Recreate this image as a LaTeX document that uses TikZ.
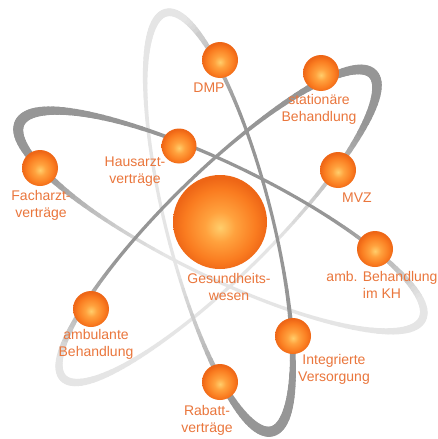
\documentclass[tikz,border=0pt]{standalone}
\usepackage{fontspec}
\setmainfont{Liberation Sans}
\definecolor{lblc}{RGB}{234,118,60}
\definecolor{sphA}{RGB}{255,206,108}
\definecolor{sphB}{RGB}{255,162,62}
\definecolor{sphC}{RGB}{250,124,32}
\definecolor{sphD}{RGB}{238,102,22}
\pgfdeclareradialshading{sph}{\pgfpoint{0bp}{-3bp}}{color(0bp)=(sphA); color(8bp)=(sphB); color(19bp)=(sphC); color(25bp)=(sphD); color(50bp)=(sphD)}
\newcommand{\orbitpart}[6]{%
  \foreach \orbq in {#6}{%
    \pgfmathsetmacro{\orbk}{max(0,min(1,0.7+1.3*cos(\orbq-40)))}%
    \pgfmathsetmacro{\orbw}{3.2+7*max(cos(\orbq),0)^3+4.5*max(-cos(\orbq),0)^4}%
    \pgfmathsetmacro{\orbc}{10+31*\orbk}%
    \pgfmathsetmacro{\orbn}{\orbq+2.5}%
    \draw[orbline, line width=\orbw pt, draw=black!\orbc]
      ({#1+#3*cos(\orbq)*cos(#5)-(#4)*sin(\orbq)*sin(#5)},{#2-#3*cos(\orbq)*sin(#5)-(#4)*sin(\orbq)*cos(#5)})
      -- ({#1+#3*cos(\orbn)*cos(#5)-(#4)*sin(\orbn)*sin(#5)},{#2-#3*cos(\orbn)*sin(#5)-(#4)*sin(\orbn)*cos(#5)});
  }}
\tikzset{
  orbline/.style={line cap=round},
  sphere/.style={circle, inner sep=0pt, shade, shading=sph, minimum size=#1},
  lbl/.style={text=lblc, font=\fontsize{14}{17}\selectfont, align=center, inner sep=0pt}
}
\begin{document}
\begin{tikzpicture}[x=1pt,y=-1pt]
\useasboundingbox (0,0) rectangle (437,439);
\fill[white] (0,0) rectangle (437,439);
% back (light) parts of the orbits
\orbitpart{221}{221}{224}{-56}{154}{150,152.5,...,307.5}
\orbitpart{218}{226}{217}{52}{44.5}{150,152.5,...,307.5}
\orbitpart{219}{222}{216}{53}{-75.8}{150,152.5,...,307.5}
% front (dark) parts of the orbits
\orbitpart{221}{221}{224}{-56}{154}{-50,-47.5,...,147.5}
\orbitpart{218}{226}{217}{52}{44.5}{-50,-47.5,...,147.5}
\orbitpart{219}{222}{216}{53}{-75.8}{-50,-47.5,...,147.5}
% spheres
\node[sphere=94pt] (core) at (220,222) {};
\node[sphere=36pt] (dmp) at (220,60) {};
\node[sphere=36pt] (stat) at (321,73) {};
\node[sphere=36pt] (mvz) at (338,170) {};
\node[sphere=35pt] (haus) at (179,146) {};
\node[sphere=36pt] (fach) at (40,168) {};
\node[sphere=36pt] (kh) at (375,249) {};
\node[sphere=36pt] (amb) at (91,309) {};
\node[sphere=36pt] (integ) at (293,336) {};
\node[sphere=36pt] (rab) at (220,382) {};
% labels
\node[lbl] (dmpL) at (209,88) {DMP};
\node[lbl] (statL) at (319,109) {stationäre\\Behandlung};
\node[lbl] (mvzL) at (357,198) {MVZ};
\node[lbl] (hausL) at (135,172) {Hausarzt-\\verträge};
\node[lbl] (fachL) at (41,205) {Facharzt-\\verträge};
\node[lbl] (coreL) at (229,287) {Gesundheits-\\wesen};
\node[lbl] (khL) at (382,285) {amb. Behandlung\\im KH};
\node[lbl] (ambL) at (96,344) {ambulante\\Behandlung};
\node[lbl] (integL) at (334,369) {Integrierte\\Versorgung};
\node[lbl] (rabL) at (207,420) {Rabatt-\\verträge};
\end{tikzpicture}
\end{document}
